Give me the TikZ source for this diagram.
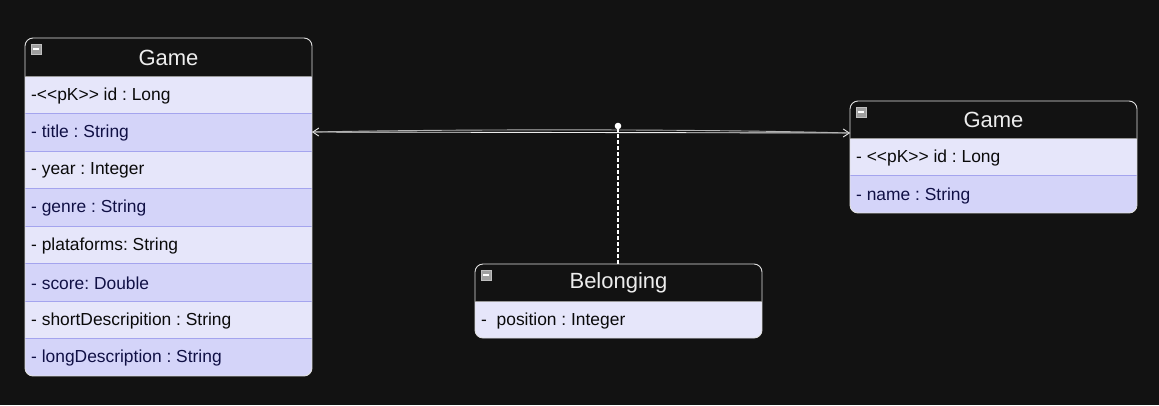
\documentclass[tikz,border=0pt]{standalone}
\usepackage{fontspec}
\setmainfont{Liberation Sans}[Ligatures=TeXOff]
\frenchspacing
\usetikzlibrary{arrows.meta}
\definecolor{bg}{HTML}{121212}
\definecolor{rowA}{HTML}{E6E6FA}
\definecolor{rowB}{HTML}{D4D4F9}
\definecolor{sep}{HTML}{A4A4EE}
\definecolor{txtA}{HTML}{0A0A0A}
\definecolor{txtB}{HTML}{101045}
\definecolor{hdrtxt}{HTML}{EDEDED}
\definecolor{frame}{HTML}{E0E0E0}
\tikzset{
  rowtext/.style={anchor=west,font=\fontsize{17.4}{19}\selectfont,inner sep=0pt},
  hdrtext/.style={anchor=center,font=\fontsize{22}{24}\selectfont,text=hdrtxt,inner sep=0pt},
  iconbox/.style={draw=gray!50,fill=gray!75,line width=0.6pt},
  boxnode/.style={inner sep=0pt,outer sep=0pt,draw=none,rectangle},
  assoc/.style={draw=white!92!black,line width=0.9pt},
  opentip/.style={{Straight Barb[length=6pt,width=8pt]}-{Straight Barb[length=6pt,width=8pt]}},
}
% \umlframe{name}{x0}{x1}{y0}{header bottom}{row height}{n rows}
\newcommand{\umlframe}[7]{%
  \pgfmathsetmacro{\ybot}{#5+#6*#7}%
  \node[boxnode,minimum width={(#3-#2)*1pt},minimum height={(\ybot-#4)*1pt}] (#1) at ({(#2+#3)/2},{(#4+\ybot)/2}) {};
  \begin{scope}
    \clip[rounded corners=8pt] (#2,#4) rectangle (#3,\ybot);
    \fill[bg] (#2,#4) rectangle (#3,#5);
    \foreach \i in {1,...,#7} {
      \pgfmathsetmacro{\ya}{#5+(\i-1)*#6}
      \pgfmathsetmacro{\yb}{#5+\i*#6}
      \pgfmathtruncatemacro{\odd}{mod(\i,2)}
      \ifnum\odd=1 \fill[rowA] (#2,\ya) rectangle (#3,\yb);
      \else \fill[rowB] (#2,\ya) rectangle (#3,\yb); \fi
    }
    \foreach \i in {2,...,#7} {
      \pgfmathsetmacro{\ya}{#5+(\i-1)*#6}
      \draw[sep,line width=0.8pt] (#2,\ya) -- (#3,\ya);
    }
  \end{scope}
  \draw[frame,line width=0.9pt,rounded corners=8pt] (#2,#4) rectangle (#3,\ybot);
  \draw[gray!80,line width=0.8pt] (#2,#5) -- (#3,#5);
  \draw[iconbox] ({#2+6},{#4+6}) rectangle ({#2+16},{#4+16});
  \draw[white,line width=1.2pt] ({#2+8},{#4+11}) -- ({#2+14},{#4+11});
}
\begin{document}
\begin{tikzpicture}[x=1pt,y=-1pt]
\fill[bg] (0,0) rectangle (1159,405);
\useasboundingbox (0,0) rectangle (1159,405);

% ---------- Game (left)
\umlframe{g1}{25}{312}{38}{76}{37.5}{8}
\node[hdrtext] (g1t) at (168.5,57.5) {Game};
\node[rowtext,text=txtA] (g1a) at (31,95.5) {-<<pK>> id : Long};
\node[rowtext,text=txtB] (g1b) at (31,133) {- title : String};
\node[rowtext,text=txtA] (g1c) at (31,170.5) {- year : Integer};
\node[rowtext,text=txtB] (g1d) at (31,208) {- genre : String};
\node[rowtext,text=txtA] (g1e) at (31,245.5) {- plataforms: String};
\node[rowtext,text=txtB] (g1f) at (31,283) {- score: Double};
\node[rowtext,text=txtA] (g1g) at (31,320.5) {- shortDescripition : String};
\node[rowtext,text=txtB] (g1h) at (31,358) {- longDescription : String};

% ---------- Game (right)
\umlframe{g2}{850}{1137}{101}{138}{37.5}{2}
\node[hdrtext] (g2t) at (993.5,120) {Game};
\node[rowtext,text=txtA] (g2a) at (856,158) {- <<pK>> id : Long};
\node[rowtext,text=txtB] (g2b) at (856,195.5) {- name : String};

% ---------- Belonging
\umlframe{bl}{475}{762}{264}{301}{37}{1}
\node[hdrtext] (blt) at (618.5,283) {Belonging};
\node[rowtext,text=txtA] (bla) at (481,320.5) {-\ \ position : Integer};

% ---------- association
\coordinate (L) at (g1.east |- 0,132);
\coordinate (R) at (g2.west |- 0,133);
\coordinate (mid) at (618,126);
\draw[assoc,opentip] (L) -- (R);
\draw[assoc,white!70!black] (L) .. controls (460,129) and (700,129) .. (R);
\draw[white,line width=1.4pt,dash pattern=on 4pt off 2pt] (bl.north -| mid) -- (mid);
\fill[white] (mid) circle (3.3pt);
\end{tikzpicture}
\end{document}
